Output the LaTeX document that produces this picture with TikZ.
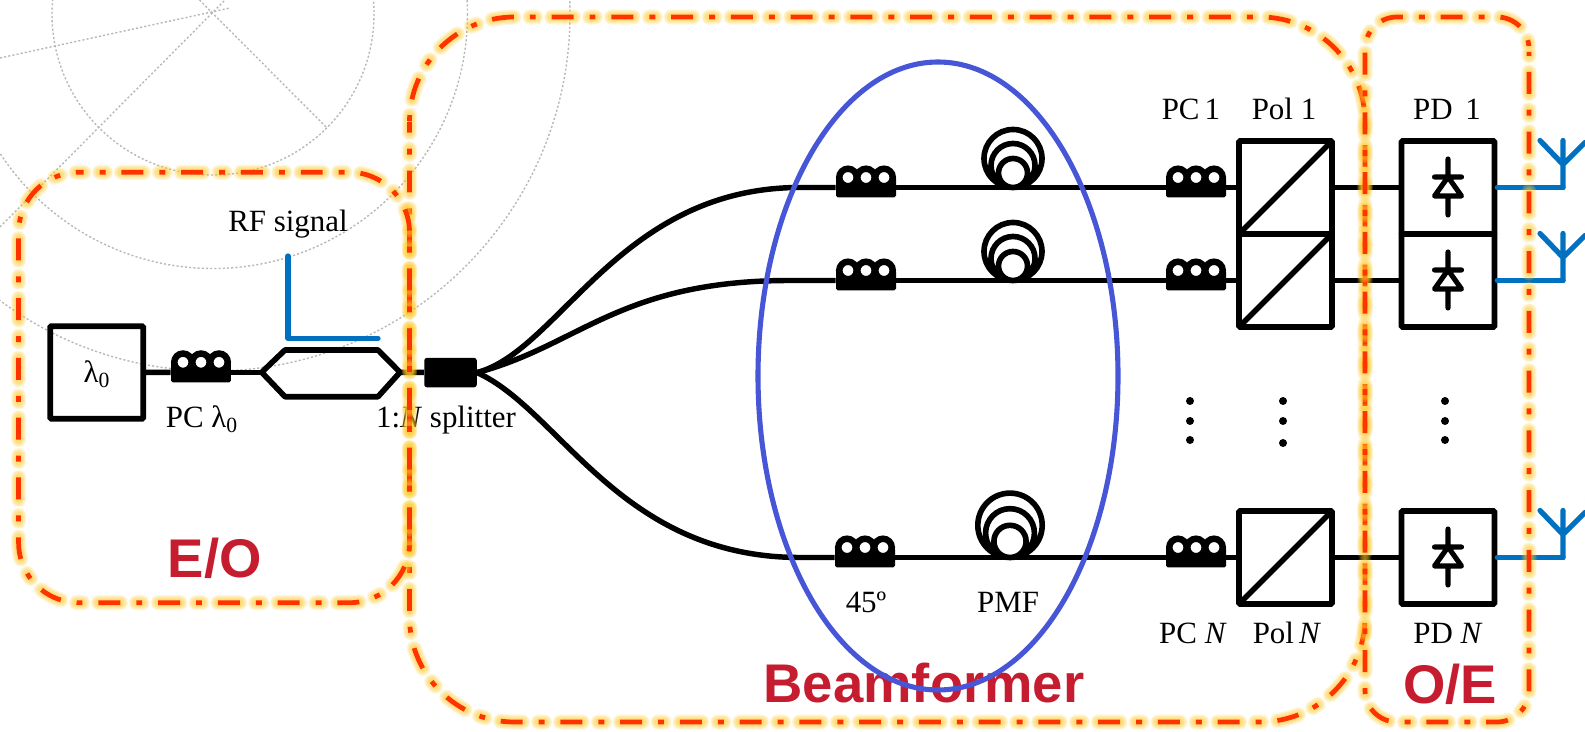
\documentclass[tikz,border=0pt]{standalone}
\usepackage{fontspec}
\setmainfont{Liberation Serif}
\newfontfamily\regionfont{Liberation Sans}
\definecolor{rfblue}{HTML}{0070C0}
\definecolor{ringblue}{HTML}{4656D6}
\definecolor{regionred}{HTML}{FF3300}
\definecolor{regionglow}{HTML}{FFC828}
\definecolor{regiontext}{HTML}{C51C30}
\definecolor{gridgrey}{HTML}{B8B8B8}

% one dashed region outline with its soft halo under it
\newcommand{\glowregion}[3]{
\foreach \w in {8.6,7.4,6.2,5,3.8}
  \draw[halo, line width=\w pt, rounded corners=#1, dash phase=#2] #3;
\draw[regionline, rounded corners=#1, dash phase=#2] #3;
}

\begin{document}
\begin{tikzpicture}[x=0.02cm,y=-0.02cm,
  fibre/.style={line width=3.1pt},
  rfline/.style={line width=3pt, color=rfblue, line cap=round, line join=round},
  optline/.style={line width=3.2pt, line join=round},
  optbox/.style={draw, line width=3.2pt, rounded corners=0.6pt, minimum width=1.86cm, minimum height=1.86cm, inner sep=0pt},
  pcbar/.style={fill=black, rounded corners=1pt, minimum width=1.2cm, minimum height=0.4cm, inner sep=0pt},
  lab/.style={anchor=base, inner sep=0pt, font=\fontsize{17.6}{20}\selectfont},
  regionlab/.style={anchor=base, inner sep=0pt, text=regiontext, font=\regionfont\bfseries\fontsize{31}{36}\selectfont},
  grid/.style={color=gridgrey, line width=0.8pt, dash pattern=on 1.2pt off 1.2pt},
  halo/.style={color=regionglow, opacity=0.17, line cap=round, dash pattern=on 12.47pt off 9.07pt on 3.4pt off 9.07pt},
  regionline/.style={color=regionred, line width=2.7pt, dash pattern=on 12.47pt off 9.07pt on 3.4pt off 9.07pt},
  vdot/.style={circle, fill=black, minimum size=0.16cm, inner sep=0pt},
  paddles/.pic={\foreach \d in {-18,0,18} \draw[line width=3.7pt, fill=white] (\d,-10) circle (8.75);},
  spool/.pic={\draw[line width=3.2pt] (0,-29) circle (29) (0,-22) circle (22) (0,-14.5) circle (14.5);},
  diode/.pic={\draw[line width=2.9pt, line cap=round, line join=round] (0,-28.5) -- (0,-10.5) (-13.5,-10.5) -- (13.5,-10.5) (0,-10.5) -- (13.5,8.5) -- (-13.5,8.5) -- cycle (0,8.5) -- (0,27.5);},
  antenna/.pic={\draw[rfline] (0,0) -- (0,-47) (-23,-47) -- (0,-23) -- (22,-45);}]

\useasboundingbox (0,0) rectangle (1585,732);

% polar grid behind the drawing
\begin{scope}
\clip (0,0) rectangle (1585,732);
\draw[grid] (213,14) circle (161);
\draw[grid] (213,14) circle (254.5);
\draw[grid] (213,14) circle (357);
\draw[grid] (0,58) -- (230,8);
\draw[grid] (0,227) -- (225,0);
\draw[grid] (199.5,0) -- (326,127);
\end{scope}

% E/O part
\node[optbox, minimum height=1.852cm] (laser) at (96.7,372.5) {};
\node[lab] (lambdalab) at (97,383) {λ\textsubscript{0}};
\node[pcbar] (pc0) at (201,372.3) {};
\pic at (pc0) {paddles};
\coordinate (mzml) at (261.7,372.3);
\coordinate (mzmr) at (400,372.3);
\draw[optline] (mzml) -- (285,350) -- (378,350) -- (mzmr) -- (378,396.7) -- (285,396.7) -- cycle;
\draw[fibre] (laser) -- (pc0);
\draw[fibre] (pc0) -- (mzml);
\coordinate (rfin) at (288,256);
\coordinate (rfend) at (378,338.3);
\draw[rfline] (rfin) -- (288,338.3) -- (rfend);
\node[lab] (rflab) at (288,232) {RF signal};
\node[lab] (pc0lab) at (202,428) {PC λ\textsubscript{0}};

% splitter and the three branches
\node[fill=black, rounded corners=1.5pt, minimum width=1.05cm, minimum height=0.59cm, inner sep=0pt] (split) at (450.5,372.6) {};
\node[lab] (splitlab) at (446,428) {1:\textit{N} splitter};
\draw[fibre] (mzmr) -- (split);
\coordinate (c1) at (800,187.5);
\coordinate (c2) at (790,280.5);
\coordinate (cN) at (800,557.5);
\node[pcbar] (a1) at (866,187.5) {};
\node[pcbar] (a2) at (866,280.5) {};
\node[pcbar] (aN) at (865,557.5) {};
\draw[fibre] (split.east) .. controls (560,350) and (620,187.5) .. (c1) -- (a1);
\draw[fibre] (split.east) .. controls (580,345) and (620,280.5) .. (c2) -- (a2);
\draw[fibre] (split.east) .. controls (560,410) and (620,557.5) .. (cN) -- (aN);
\pic at (a1) {paddles};
\pic at (a2) {paddles};
\pic at (aN) {paddles};

\pic at (1013,187.5) {spool};
\pic at (1013,280.5) {spool};
\pic[scale=1.11] at (1010,557.5) {spool};
\node[lab] (anglelab) at (866,613) {45º};
\node[lab] (pmflab) at (1008,613) {PMF};

% right hand rows
\node[pcbar] (b1) at (1196,187.5) {};
\node[pcbar] (b2) at (1196,280.5) {};
\node[pcbar] (bN) at (1196,557.5) {};
\pic at (b1) {paddles};
\pic at (b2) {paddles};
\pic at (bN) {paddles};
\node[optbox] (pol1) at (1285.5,187.5) {};
\node[optbox] (pol2) at (1285.5,280.5) {};
\node[optbox] (polN) at (1285.5,557.5) {};
\node[optbox] (pd1) at (1448,187.5) {};
\node[optbox] (pd2) at (1448,280.5) {};
\node[optbox] (pdN) at (1448,557.5) {};
\draw[optline, shorten <=2pt, shorten >=2pt] (pol1.south west) -- (pol1.north east);
\draw[optline, shorten <=2pt, shorten >=2pt] (pol2.south west) -- (pol2.north east);
\draw[optline, shorten <=2pt, shorten >=2pt] (polN.south west) -- (polN.north east);
\pic at (pd1) {diode};
\pic at (pd2) {diode};
\pic at (pdN) {diode};

\draw[fibre] (a1) -- (b1);
\draw[fibre] (a2) -- (b2);
\draw[fibre] (aN) -- (bN);
\draw[fibre] (b1) -- (pol1);
\draw[fibre] (b2) -- (pol2);
\draw[fibre] (bN) -- (polN);
\draw[fibre] (pol1) -- (pd1);
\draw[fibre] (pol2) -- (pd2);
\draw[fibre] (polN) -- (pdN);

\coordinate (ant1) at (1563,187.5);
\coordinate (ant2) at (1563,280.5);
\coordinate (antN) at (1563,557.5);
\draw[rfline] (pd1) -- (ant1);
\draw[rfline] (pd2) -- (ant2);
\draw[rfline] (pdN) -- (antN);
\pic at (ant1) {antenna};
\pic at (ant2) {antenna};
\pic at (antN) {antenna};

\node[vdot] (d1) at (1190,401) {};
\node[vdot] (d2) at (1190,421) {};
\node[vdot] (d3) at (1190,440) {};
\node[vdot] (d4) at (1283,401) {};
\node[vdot] (d5) at (1283,421) {};
\node[vdot] (d6) at (1283,443) {};
\node[vdot] (d7) at (1445,401) {};
\node[vdot] (d8) at (1445,421) {};
\node[vdot] (d9) at (1445,440) {};

\node[lab] (pc1lab) at (1191,120) {PC\,1};
\node[lab] (pol1lab) at (1284,120) {Pol 1};
\node[lab] (pd1lab) at (1447,120) {PD\, 1};
\node[lab] (pcNlab) at (1193,643) {PC \textit{N}};
\node[lab] (polNlab) at (1287,643) {Pol\,\textit{N}};
\node[lab] (pdNlab) at (1448,643) {PD \textit{N}};

\node[regionlab] (eolab) at (214.7,578) {E/O};
\node[regionlab] (bflab) at (924,702) {Beamformer};
\node[regionlab] (oelab) at (1450,703) {O/E};

\draw[color=ringblue, line width=2.9pt] (938,376) ellipse (180 and 314);

% regions go last, the halo sits over the fibres
\glowregion{2.1cm}{21pt}{(409.5,122) -- (409.5,17) -- (1365,17) -- (1365,722) -- (409.5,722) -- (409.5,122)}
\glowregion{1.2cm}{9.6pt}{(78.6,172.3) -- (409.5,172.3) -- (409.5,602.7) -- (18.6,602.7) -- (18.6,172.3) -- (78.6,172.3)}
\glowregion{0.64cm}{22.7pt}{(1529,52) -- (1529,722) -- (1365,722) -- (1365,17) -- (1529,17) -- (1529,52)}

\end{tikzpicture}
\end{document}
